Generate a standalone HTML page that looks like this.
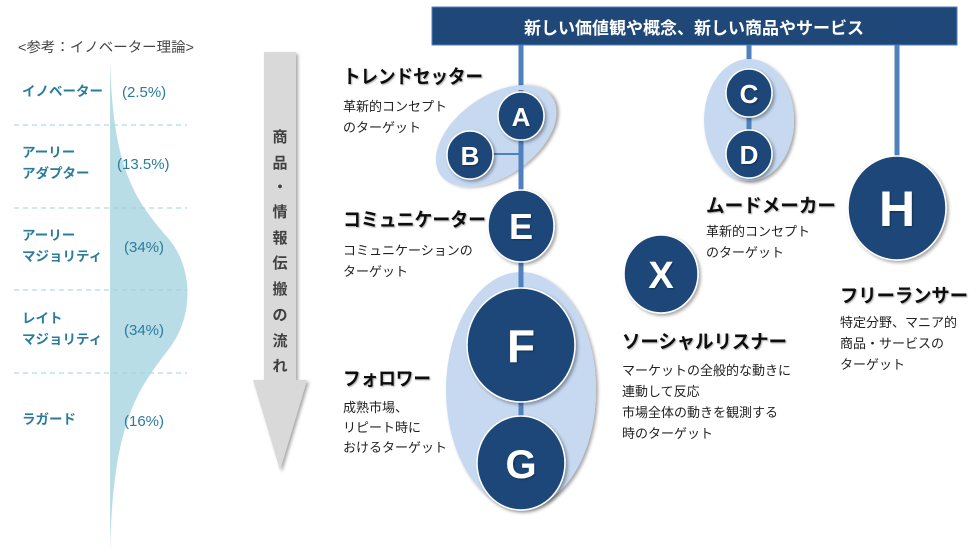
<!DOCTYPE html>
<html><head><meta charset="utf-8"><style>
html,body{margin:0;padding:0;background:#fff;}
svg{display:block;font-family:"Liberation Sans","Noto Sans CJK JP",sans-serif;}
</style></head><body>
<svg width="980" height="556" viewBox="0 0 980 556" xmlns="http://www.w3.org/2000/svg">
<defs>
<filter id="sh" x="-20%" y="-20%" width="150%" height="150%"><feDropShadow dx="2" dy="2" stdDeviation="1.5" flood-color="#000" flood-opacity="0.35"/></filter>
<filter id="ts" x="-5%" y="-20%" width="110%" height="150%"><feDropShadow dx="1" dy="1" stdDeviation="0.8" flood-color="#000" flood-opacity="0.35"/></filter>
</defs>
<!-- left theory -->
<text x="18" y="52" font-size="14" fill="#444" textLength="176" lengthAdjust="spacingAndGlyphs">&lt;参考：イノベーター理論&gt;</text>
<path d="M110,60 C113,170 135,200 168,238 C194,268 194,318 168,350 C138,390 113,420 110,552 Z" fill="#b8dde7"/>
<g stroke="#9fd0e0" stroke-width="1" stroke-dasharray="5,4">
<line x1="14" y1="125" x2="187" y2="125"/><line x1="14" y1="208" x2="187" y2="208"/>
<line x1="14" y1="290" x2="187" y2="290"/><line x1="14" y1="373" x2="187" y2="373"/>
</g>
<g font-size="13.5" font-weight="bold" fill="#2a7c9c">
<text x="22" y="96">イノベーター</text>
<text x="22" y="157">アーリー</text><text x="22" y="178">アダプター</text>
<text x="22" y="240">アーリー</text><text x="22" y="261">マジョリティ</text>
<text x="22" y="323">レイト</text><text x="22" y="344">マジョリティ</text>
<text x="22" y="424">ラガード</text>
</g>
<g font-size="15" fill="#2a7c9c">
<text x="122" y="97">(2.5%)</text>
<text x="117" y="169">(13.5%)</text>
<text x="124" y="252">(34%)</text>
<text x="124" y="335">(34%)</text>
<text x="124" y="426">(16%)</text>
</g>
<!-- arrow -->
<path d="M264,52 L296,52 L296,380 L307,380 L280,470 L253,380 L264,380 Z" fill="#d9d9d9" filter="url(#sh)"/>
<g font-size="15" font-weight="bold" fill="#404040" text-anchor="middle">
<text x="280" y="142">商</text><text x="280" y="168">品</text><text x="280" y="192">・</text>
<text x="280" y="217">情</text><text x="280" y="243">報</text><text x="280" y="268">伝</text>
<text x="280" y="294">搬</text><text x="280" y="320">の</text><text x="280" y="346">流</text><text x="280" y="371">れ</text>
</g>
<!-- banner -->
<rect x="432" y="7" width="525" height="38" fill="#1f4778" stroke="#4f81bd" stroke-width="1"/>
<text x="694" y="34" font-size="17" font-weight="bold" fill="#fff" text-anchor="middle">新しい価値観や概念、新しい商品やサービス</text>
<!-- connectors -->
<g stroke="#4f81bd" stroke-width="5">
<line x1="521" y1="45" x2="521" y2="440"/>
<line x1="749" y1="45" x2="749" y2="70"/>
<line x1="897" y1="45" x2="897" y2="165"/>
</g>
<!-- ellipses -->
<ellipse cx="496" cy="136" rx="68" ry="40" transform="rotate(-35 496 136)" fill="#c6d9f1" filter="url(#sh)"/>
<ellipse cx="749" cy="120" rx="45" ry="61" fill="#c6d9f1" filter="url(#sh)"/>
<ellipse cx="521" cy="390" rx="75" ry="118" fill="#c6d9f1" filter="url(#sh)"/>
<g stroke="#4f81bd" stroke-width="5">
<line x1="521" y1="90" x2="521" y2="440"/>
<line x1="749" y1="100" x2="749" y2="140"/>
</g>
<line x1="470" y1="154" x2="521" y2="154" stroke="#4f81bd" stroke-width="2"/>
<!-- circles -->
<g fill="#1f4778" stroke="#fff" stroke-width="1.5" filter="url(#sh)">
<ellipse cx="521" cy="116" rx="23" ry="24"/>
<ellipse cx="470" cy="155" rx="23" ry="24"/>
<ellipse cx="749" cy="93" rx="23" ry="24"/>
<ellipse cx="749" cy="154" rx="23" ry="24"/>
<ellipse cx="521" cy="226" rx="33" ry="36"/>
<ellipse cx="521" cy="345" rx="54" ry="57"/>
<ellipse cx="521" cy="463" rx="44" ry="47"/>
<ellipse cx="661" cy="274" rx="37" ry="39"/>
<ellipse cx="897" cy="208" rx="49" ry="52"/>
</g>
<g fill="#fff" font-weight="bold" text-anchor="middle" filter="url(#ts)">
<text x="521" y="126" font-size="26">A</text>
<text x="470" y="165" font-size="26">B</text>
<text x="749" y="103" font-size="26">C</text>
<text x="749" y="164" font-size="26">D</text>
<text x="521" y="239" font-size="36">E</text>
<text x="521" y="362" font-size="46">F</text>
<text x="521" y="478" font-size="40">G</text>
<text x="661" y="288" font-size="38">X</text>
<text x="897" y="226" font-size="50">H</text>
</g>
<!-- labels -->
<g font-size="19" font-weight="bold" fill="#111" filter="url(#ts)" lengthAdjust="spacingAndGlyphs">
<text x="343" y="83" textLength="140" lengthAdjust="spacingAndGlyphs">トレンドセッター</text>
<text x="343" y="226" textLength="143" lengthAdjust="spacingAndGlyphs">コミュニケーター</text>
<text x="343" y="385" textLength="88" lengthAdjust="spacingAndGlyphs">フォロワー</text>
<text x="706" y="212" textLength="130" lengthAdjust="spacingAndGlyphs">ムードメーカー</text>
<text x="622" y="348" textLength="165" lengthAdjust="spacingAndGlyphs">ソーシャルリスナー</text>
<text x="840" y="302" textLength="128" lengthAdjust="spacingAndGlyphs">フリーランサー</text>
</g>
<g font-size="13" fill="#222">
<text x="343" y="111">革新的コンセプト</text><text x="343" y="132">のターゲット</text>
<text x="343" y="255">コミュニケーションの</text><text x="343" y="276">ターゲット</text>
<text x="343" y="412">成熟市場、</text><text x="343" y="432">リピート時に</text><text x="343" y="452">おけるターゲット</text>
<text x="706" y="236">革新的コンセプト</text><text x="706" y="257">のターゲット</text>
<text x="622" y="375">マーケットの全般的な動きに</text><text x="622" y="396">連動して反応</text>
<text x="622" y="417">市場全体の動きを観測する</text><text x="622" y="438">時のターゲット</text>
<text x="840" y="327">特定分野、マニア的</text><text x="840" y="348">商品・サービスの</text><text x="840" y="369">ターゲット</text>
</g>
</svg>
</body></html>
